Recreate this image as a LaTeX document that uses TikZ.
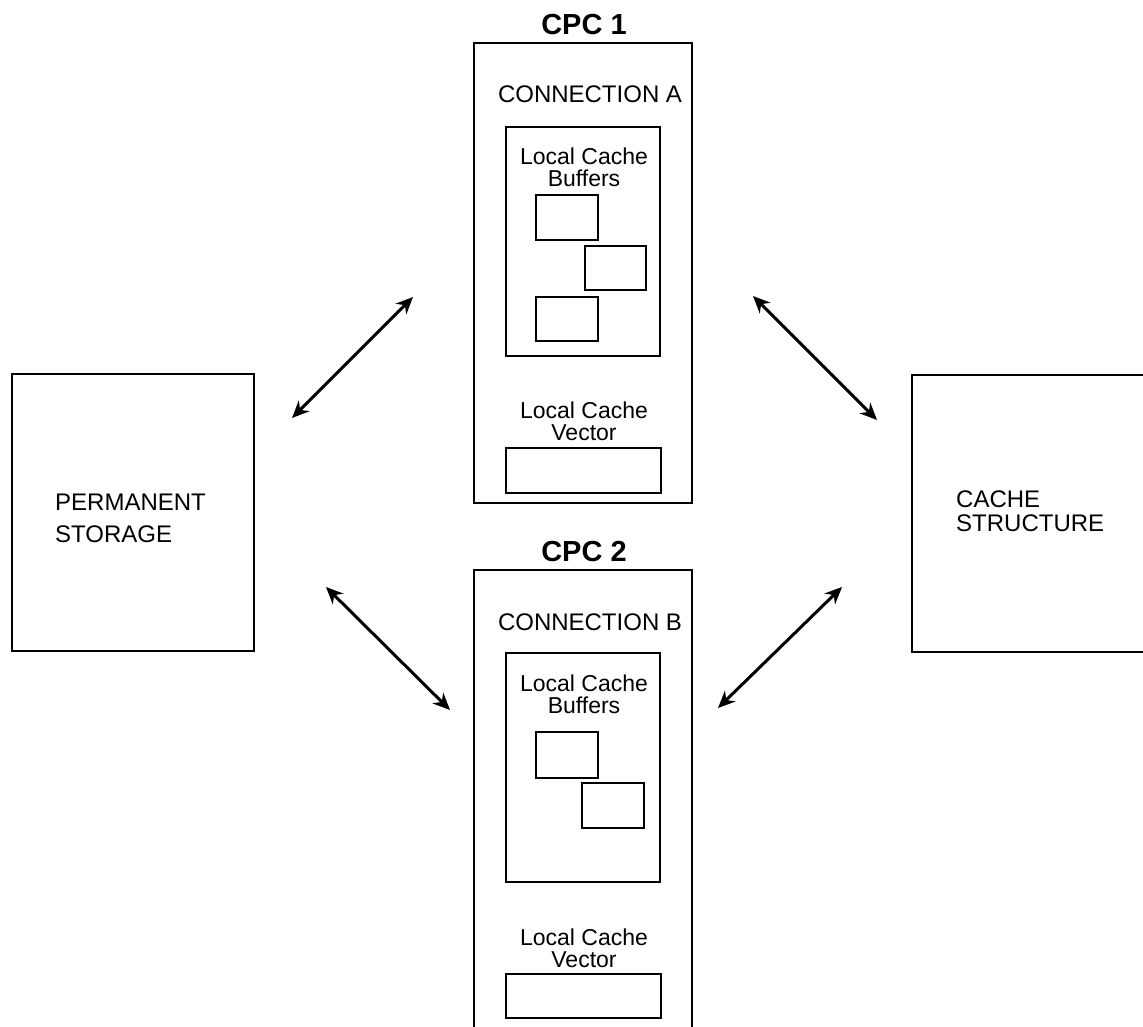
\documentclass[tikz,border=0pt]{standalone}
\usepackage{fontspec}
\setmainfont{Liberation Sans}
\usepackage{tikz}
\usetikzlibrary{arrows.meta}
\tikzstyle{box} = [draw, line width=2.5pt, inner sep=0pt]
\tikzstyle{txt} = [inner sep=0pt, font=\fontsize{24}{21}\selectfont, align=center]
\tikzstyle{small} = [txt, font=\fontsize{23}{22}\selectfont]
\tikzstyle{title} = [inner sep=0pt, font=\fontsize{29}{29}\selectfont\bfseries]
\tikzstyle{arrow} = [line width=3pt, {Stealth[length=17pt,width=15pt]}-{Stealth[length=17pt,width=15pt]}]

\begin{document}
\begin{tikzpicture}[x=1pt, y=-1pt]
	\useasboundingbox (0,0) rectangle (1143,1027);
	\clip (0,0) rectangle (1143,1027);
	% side boxes
	\node[box, minimum width=242pt, minimum height=277pt] (perm) at (133,512.5) {};
	\node[txt, align=left, anchor=west, font=\fontsize{24}{32}\selectfont] (permtxt) at (55,518) {PERMANENT\\STORAGE};
	\node[box, minimum width=242pt, minimum height=277pt] (cache) at (1033,513.5) {};
	\node[txt, align=left, anchor=west, font=\fontsize{24}{24}\selectfont] (cachetxt) at (956,511) {CACHE\\STRUCTURE};
	% CPC 1
	\node[box, minimum width=218pt, minimum height=460pt] (cpcA) at (583,273) {};
	\node[title, anchor=base] (cpcAtitle) at (584,35) {CPC 1};
	\node[txt, anchor=base] (connA) at (590,103) {CONNECTION A};
	\node[box, minimum width=154pt, minimum height=229pt] (bufA) at (583,241.5) {};
	\node[small, anchor=base] (bufAtxt) at (584,187) {Local Cache\\Buffers};
	\node[box, minimum width=62pt, minimum height=45pt] (bufA1) at (567,217.5) {};
	\node[box, minimum width=61pt, minimum height=44pt] (bufA2) at (615.5,268) {};
	\node[box, minimum width=62pt, minimum height=44pt] (bufA3) at (567,319) {};
	\node[small, anchor=base] (vecAtxt) at (584,440) {Local Cache\\Vector};
	\node[box, minimum width=155pt, minimum height=45pt] (vecA) at (583.5,470.5) {};
	% CPC 2
	\node[box, minimum width=218pt, minimum height=480pt] (cpcB) at (583,810) {};
	\node[title, anchor=base] (cpcBtitle) at (584,561) {CPC 2};
	\node[txt, anchor=base] (connB) at (590,630) {CONNECTION B};
	\node[box, minimum width=154pt, minimum height=229pt] (bufB) at (583,767.5) {};
	\node[small, anchor=base] (bufBtxt) at (584,713) {Local Cache\\Buffers};
	\node[box, minimum width=62pt, minimum height=46pt] (bufB1) at (567,755) {};
	\node[box, minimum width=62pt, minimum height=45pt] (bufB2) at (613,805.5) {};
	\node[small, anchor=base] (vecBtxt) at (584,967) {Local Cache\\Vector};
	\node[box, minimum width=155pt, minimum height=44pt] (vecB) at (583.5,996) {};
	% arrows
	\coordinate (p1) at (292,418);
	\coordinate (p2) at (413,297);
	\coordinate (c1) at (753,296);
	\coordinate (c2) at (877,420);
	\coordinate (p3) at (326,587);
	\coordinate (p4) at (450,710);
	\coordinate (c3) at (718,708);
	\coordinate (c4) at (842,587);
	\draw[arrow] (p1) -- (p2);
	\draw[arrow] (c1) -- (c2);
	\draw[arrow] (p3) -- (p4);
	\draw[arrow] (c3) -- (c4);
\end{tikzpicture}
\end{document}
